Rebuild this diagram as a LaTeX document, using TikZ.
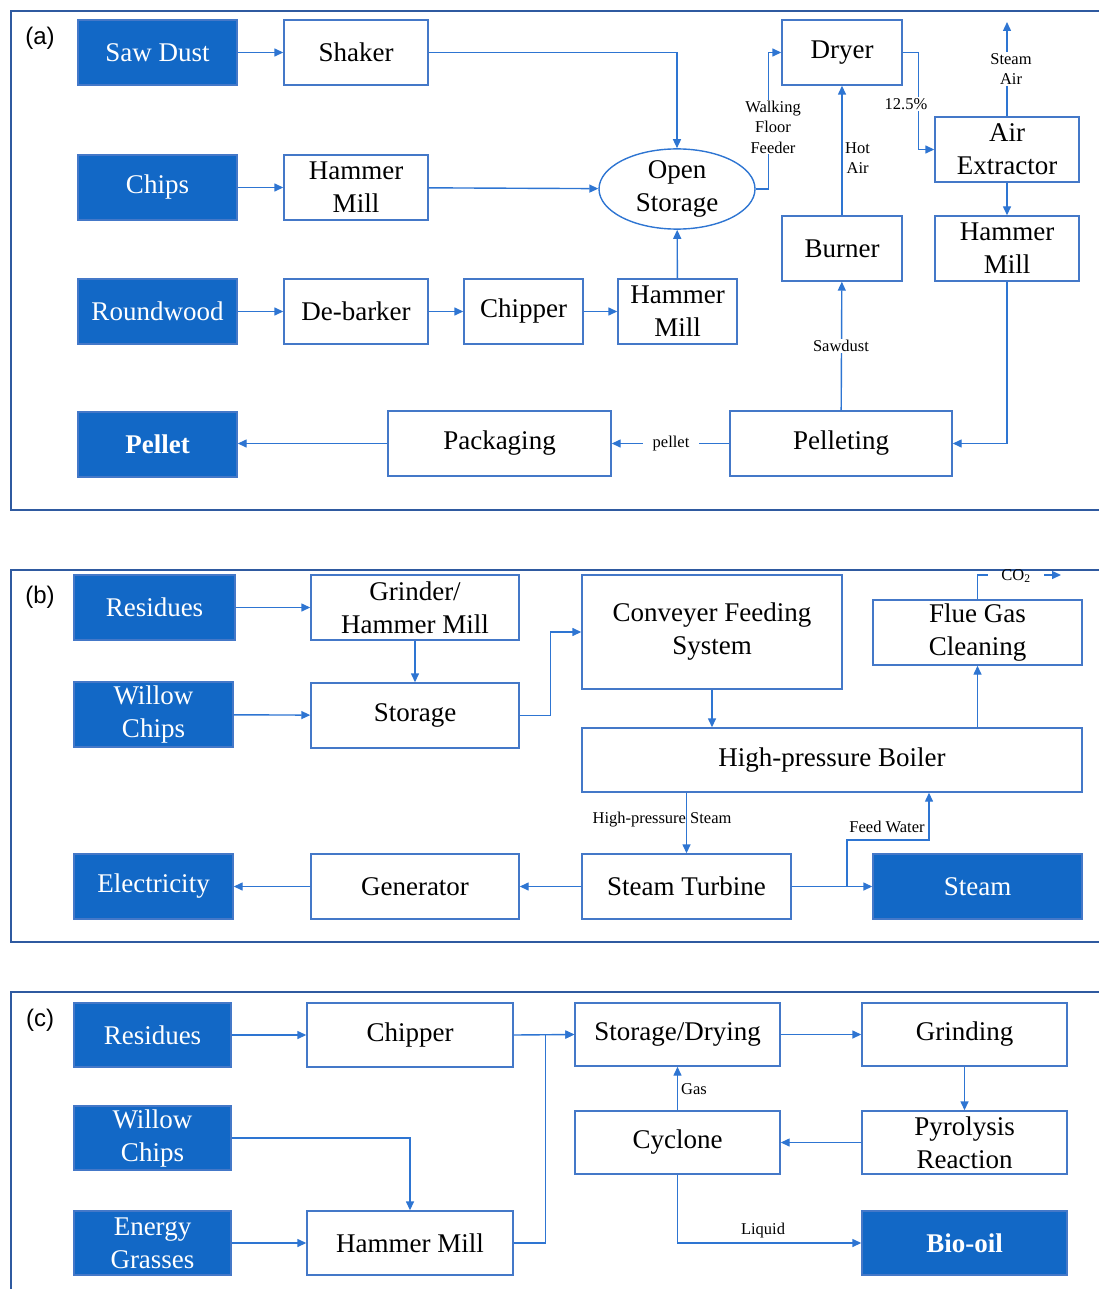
\documentclass[tikz,border=0pt]{standalone}
\usepackage{fontspec}
\setmainfont{Liberation Serif}
\newfontfamily\panelfont{Liberation Sans}
\usetikzlibrary{arrows.meta,shapes.geometric,calc}
\definecolor{bfill}{RGB}{18,104,198}
\definecolor{bline}{RGB}{68,120,200}
\definecolor{aline}{RGB}{46,117,210}
\definecolor{fline}{RGB}{47,90,160}
\tikzset{
  box/.style={draw=bline, line width=1.4pt, fill=white, align=center, inner sep=0pt,
    font=\fontsize{27}{33}\selectfont},
  fbox/.style={box, fill=bfill, text=white},
  arr/.style={draw=aline, line width=1.4pt, -{Triangle[length=9pt,width=8pt]}},
  ln/.style={draw=aline, line width=1.4pt},
  lbl/.style={font=\fontsize{16.5}{20.5}\selectfont, align=center, inner sep=1pt},
  wlbl/.style={lbl, fill=white},
  frame/.style={draw=fline, line width=2pt},
  plabel/.style={font=\panelfont\fontsize{24}{28}\selectfont}
}
\begin{document}
\begin{tikzpicture}[x=1pt,y=-1pt]
\useasboundingbox (0,0) rectangle (1098,1289);
% ---------------- panel (a)
\draw[frame] (11,11) rectangle (1104,510);
\node[plabel] (pa) at (40,38) {(a)};
\node[fbox, minimum width=159, minimum height=65] (sawdust) at (157.5,52.5) {Saw Dust};
\node[box, minimum width=144, minimum height=65] (shaker) at (356,52.5) {Shaker};
\node[fbox, minimum width=159, minimum height=65] (chips) at (157.5,187.5) {Chips};
\node[box, minimum width=144, minimum height=65] (hma) at (356,187.5) {Hammer\\Mill};
\node[draw=aline, line width=1.4pt, ellipse, minimum width=156, minimum height=74, inner sep=0pt, align=center, font=\fontsize{27}{33}\selectfont] (ostore) at (677,189) {Open\\Storage};
\node[fbox, minimum width=159, minimum height=65] (roundwood) at (157.5,311.5) {Roundwood};
\node[box, minimum width=144, minimum height=65] (debarker) at (356,311.5) {De-barker};
\node[box, minimum width=119, minimum height=65] (chippera) at (523.5,311.5) {Chipper};
\node[box, minimum width=119, minimum height=65] (hmb) at (677.5,311.5) {Hammer\\Mill};
\node[box, minimum width=120, minimum height=65] (dryer) at (842,52.5) {Dryer};
\node[box, minimum width=120, minimum height=65] (burner) at (842,248.5) {Burner};
\node[box, minimum width=144, minimum height=65] (airex) at (1007,149.5) {Air\\Extractor};
\node[box, minimum width=144, minimum height=65] (hmc) at (1007,248.5) {Hammer\\Mill};
\node[fbox, minimum width=159, minimum height=65, font=\fontsize{27}{33}\selectfont\bfseries] (pellet) at (157.5,444.5) {Pellet};
\node[box, minimum width=223, minimum height=65] (packaging) at (499.5,443.5) {Packaging};
\node[box, minimum width=222, minimum height=65] (pelleting) at (841,443.5) {Pelleting};
\coordinate (steamout) at (1007,22);

\draw[arr] (sawdust.east) -- (shaker.west);
\draw[arr] (shaker.east) -| (ostore.north);
\draw[arr] (chips.east) -- (hma.west);
\draw[arr] (hma) -- (ostore);
\draw[arr] (roundwood.east) -- (debarker.west);
\draw[arr] (debarker.east) -- (chippera.west);
\draw[arr] (chippera.east) -- (hmb.west);
\draw[arr] (hmb) -- (ostore);
\draw[arr] (ostore.east) -- ++(13,0) |- (dryer.west);
\node[wlbl] (wff) at (773,127) {Walking\\Floor\\Feeder};
\draw[arr] (burner) -- (dryer);
\node[lbl, anchor=west] (hotair) at (844,158) {Hot\\Air};
\draw[arr] (dryer.east) -- ++(16,0) |- (airex.west);
\node[wlbl] (pct) at (906,104) {12.5\%};
\draw[arr] (airex.north) -- (steamout);
\node[wlbl] (steamair) at (1011,69) {Steam\\Air};
\draw[arr] (airex) -- (hmc);
\draw[arr] (hmc.south) |- (pelleting.east);
\draw[arr] (pelleting) -- (burner);
\node[wlbl] (sawd) at (841,346) {Sawdust};
\draw[arr] (pelleting.west) -- (packaging.east);
\node[wlbl, inner xsep=10pt] (pelletlbl) at (671,443.5) {pellet};
\draw[arr] (packaging.west) -- (packaging.west -| pellet.east);

% ---------------- panel (b)
\draw[frame] (11,570) rectangle (1104,942);
\node[plabel] (pb) at (40,597) {(b)};
\node[fbox, minimum width=161, minimum height=65] (resb) at (154.5,607.5) {Residues};
\node[box, minimum width=208, minimum height=65] (grinder) at (415,607.5) {Grinder/\\Hammer Mill};
\node[fbox, minimum width=159, minimum height=65] (willowb) at (153.5,714.5) {Willow\\Chips};
\node[box, minimum width=208, minimum height=65] (storageb) at (415,715.5) {Storage};
\node[box, minimum width=260, minimum height=114] (conveyer) at (712,632) {Conveyer Feeding\\System};
\node[box, minimum width=209, minimum height=65] (flue) at (977.5,632.5) {Flue Gas\\Cleaning};
\node[box, minimum width=500, minimum height=64] (boiler) at (832,760) {High-pressure Boiler};
\node[fbox, minimum width=159, minimum height=65] (elec) at (153.5,886.5) {Electricity};
\node[box, minimum width=208, minimum height=65] (generator) at (415,886.5) {Generator};
\node[box, minimum width=209, minimum height=65] (turbine) at (686.5,886.5) {Steam Turbine};
\node[fbox, minimum width=209, minimum height=65] (steam) at (977.5,886.5) {Steam};
\coordinate (co2a) at (988,575);
\coordinate (co2b) at (1044,575);
\coordinate (co2c) at (1061,575);
\coordinate (fwa) at (847,886.5);
\coordinate (fwb) at (929,840);

\draw[arr] (resb.east) -- (grinder.west);
\draw[arr] (grinder) -- (storageb);
\draw[arr] (willowb) -- (storageb);
\draw[arr] (storageb.east) -- ++(31,0) |- (conveyer.west);
\draw[arr] (conveyer.south) -- (conveyer.south |- boiler.north);
\draw[arr] (flue.south |- boiler.north) -- (flue.south);
\draw[ln] (flue.north) |- (co2a);
\draw[arr] (co2b) -- (co2c);
\node[lbl] (co2) at (1016,576) {CO\textsubscript{2}};
\draw[arr] (turbine.north |- boiler.south) -- (turbine.north);
\node[lbl] (hps) at (662,820) {High-pressure Steam};
\draw[arr] (turbine.east) -- (steam.west);
\draw[arr] (fwa) |- (fwb) -- (fwb |- boiler.south);
\node[lbl] (fw) at (887,827) {Feed Water};
\draw[arr] (turbine.west) -- (generator.east);
\draw[arr] (generator.west) -- (elec.east);

% ---------------- panel (c)
\draw[frame] (11,992) rectangle (1104,1300);
\node[plabel] (pc) at (40,1020) {(c)};
\node[fbox, minimum width=157, minimum height=64] (resc) at (152.5,1035) {Residues};
\node[box, minimum width=206, minimum height=64] (chipperc) at (410,1035) {Chipper};
\node[fbox, minimum width=157, minimum height=64] (willowc) at (152.5,1138) {Willow\\Chips};
\node[fbox, minimum width=157, minimum height=64] (grasses) at (152.5,1243) {Energy\\Grasses};
\node[box, minimum width=206, minimum height=64] (hmd) at (410,1243) {Hammer Mill};
\node[box, minimum width=205, minimum height=63] (sd) at (677.5,1034.5) {Storage/Drying};
\node[box, minimum width=205, minimum height=63] (grinding) at (964.5,1034.5) {Grinding};
\node[box, minimum width=205, minimum height=63] (cyclone) at (677.5,1142.5) {Cyclone};
\node[box, minimum width=205, minimum height=63] (pyro) at (964.5,1142.5) {Pyrolysis\\Reaction};
\node[fbox, minimum width=205, minimum height=64, font=\fontsize{27}{33}\selectfont\bfseries] (biooil) at (964.5,1243) {Bio-oil};

\draw[arr] (resc.east) -- (chipperc.west);
\draw[arr] (chipperc.east) -- (sd.west);
\draw[arr] (hmd.east) -- ++(32,0) |- (sd.west);
\draw[arr] (willowc.east) -| (hmd.north);
\draw[arr] (grasses.east) -- (hmd.west);
\draw[arr] (sd.east) -- (grinding.west);
\draw[arr] (grinding) -- (pyro);
\draw[arr] (pyro) -- (cyclone);
\draw[arr] (cyclone) -- (sd);
\node[lbl, anchor=west] (gas) at (680,1089) {Gas};
\draw[arr] (cyclone.south) |- (biooil.west);
\node[lbl] (liquid) at (763,1231) {Liquid};
\end{tikzpicture}
\end{document}
